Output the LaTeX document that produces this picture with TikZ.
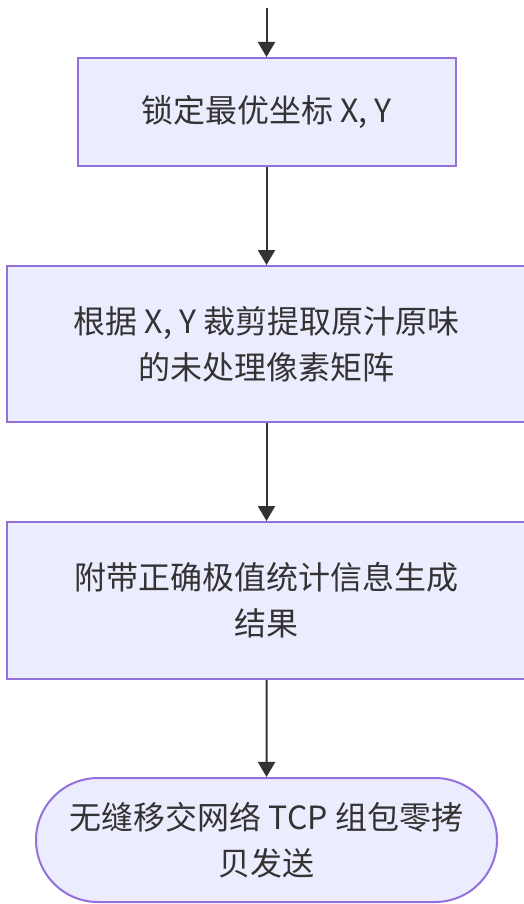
\documentclass[tikz,border=0pt]{standalone}
\usepackage{fontspec}
\newfontfamily\cjk{Noto Sans CJK SC}
\usetikzlibrary{arrows.meta,shapes.misc}
\definecolor{boxfill}{HTML}{ECECFF}
\definecolor{boxline}{HTML}{9370DB}
\definecolor{ink}{HTML}{333333}
\begin{document}
\begin{tikzpicture}[x=1pt,y=-1pt,
  proc/.style={draw=boxline, fill=boxfill, line width=2pt, text=ink,
    font=\cjk\fontsize{32}{46}\selectfont, align=center, inner sep=0pt},
  term/.style={proc, rounded rectangle},
  arr/.style={draw=ink, line width=2pt, -{Triangle[length=15pt,width=17pt]}}]
\useasboundingbox (0,0) rectangle (523,904);
\coordinate (start) at (266.5,8);
\node[proc, minimum width=378pt, minimum height=108pt] (b1) at (266.5,112) {锁定最优坐标 X, Y};
\node[proc, minimum width=519pt, minimum height=156pt] (b2) at (266.5,344) {根据 X, Y 裁剪提取原汁原味\\的未处理像素矩阵};
\node[proc, minimum width=519pt, minimum height=157pt] (b3) at (266.5,600.5) {附带正确极值统计信息生成\\结果};
\node[term, minimum width=461pt, minimum height=124pt] (b4) at (266.5,840) {无缝移交网络 TCP 组包零拷\\贝发送};
\draw[arr] (start) -- (b1);
\draw[arr] (b1) -- (b2);
\draw[arr] (b2) -- (b3);
\draw[arr] (b3) -- (b4);
\end{tikzpicture}
\end{document}
